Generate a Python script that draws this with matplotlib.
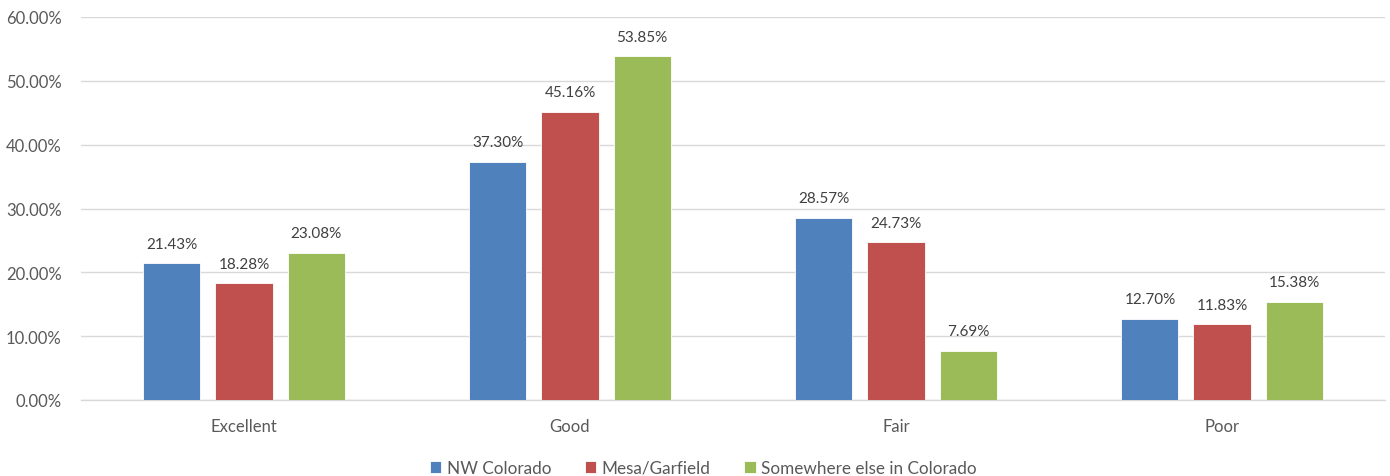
import matplotlib
matplotlib.use("Agg")
import matplotlib.pyplot as plt
import numpy as np

categories = ["Excellent", "Good", "Fair", "Poor"]
series_names = ["NW Colorado", "Mesa/Garfield", "Somewhere else in Colorado"]
nw_colorado = [21.43, 37.30, 28.57, 12.70]
mesa_garfield = [18.28, 45.16, 24.73, 11.83]
elsewhere_co = [23.08, 53.85, 7.69, 15.38]
y_ticks = [0, 10, 20, 30, 40, 50, 60]

colors = ["#4F81BD", "#C0504D", "#9BBB59"]
text_color = "#595959"
grid_color = "#D9D9D9"

plt.rcParams["font.family"] = ["Lato", "DejaVu Sans"]

fig = plt.figure(figsize=(13.9, 4.77), dpi=100)
ax = fig.add_axes([81 / 1390, 1 - 401 / 477, (1385 - 81) / 1390, (401 - 18) / 477])

x = np.arange(len(categories))
width = 0.175
step = 0.221
series = [nw_colorado, mesa_garfield, elsewhere_co]
for i, (vals, name, c) in enumerate(zip(series, series_names, colors)):
    pos = x + (i - 1) * step
    bars = ax.bar(pos, vals, width, color=c, label=name, zorder=3,
                  edgecolor="white", linewidth=0.6)
    for b, v in zip(bars, vals):
        ax.annotate(f"{v:.2f}%", (b.get_x() + b.get_width() / 2, v),
                    xytext=(0, 9), textcoords="offset points",
                    ha="center", va="bottom", fontsize=11, color="#404040")

ax.set_xlim(-0.5, len(categories) - 0.5)
ax.set_ylim(0, 60)
ax.set_yticks(y_ticks)
ax.set_yticklabels([f"{t:.2f}%" for t in y_ticks])
ax.set_xticks(x)
ax.set_xticklabels(categories)
ax.tick_params(axis="both", length=0, labelsize=12, colors=text_color)
ax.tick_params(axis="x", pad=13)
ax.tick_params(axis="y", pad=14)
ax.grid(axis="y", color=grid_color, linewidth=1, zorder=0)
for s in ["top", "right", "left"]:
    ax.spines[s].set_visible(False)
ax.spines["bottom"].set_color(grid_color)
ax.spines["bottom"].set_linewidth(1)

fig.legend(loc="lower center", bbox_to_anchor=(0.506, -0.032), ncol=3, frameon=False,
           fontsize=12.3, handlelength=0.65, handleheight=0.65, handletextpad=0.3,
           columnspacing=2.0, labelcolor=text_color)

fig.savefig("out.png", dpi=100)
